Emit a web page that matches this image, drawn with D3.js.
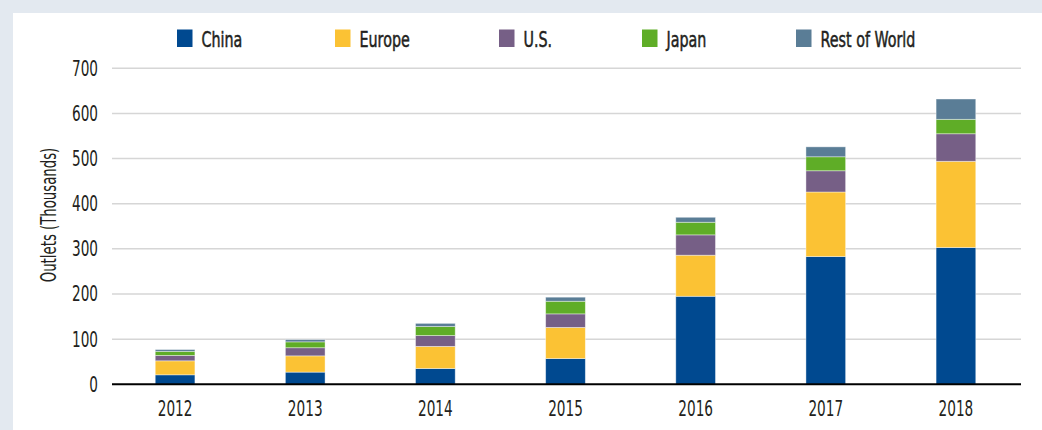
<!DOCTYPE html>
<html>
<head>
<meta charset="utf-8">
<script src="https://cdn.jsdelivr.net/npm/d3@7"></script>
<style>
  html, body { margin: 0; padding: 0; background: #e3e9f0; }
  svg { display: block; font-family: "DejaVu Sans Condensed", "DejaVu Sans", sans-serif; font-stretch: condensed; }
</style>
</head>
<body>
<div id="chart"></div>
<script>
var years = ["2012", "2013", "2014", "2015", "2016", "2017", "2018"];
var regions = ["China", "Europe", "U.S.", "Japan", "Rest of World"];
var china = [21, 27, 35, 57, 195, 283, 303];
var europe = [31, 36, 49, 69, 91, 143, 191];
var us = [12, 18, 24, 30, 45, 47, 61];
var japan = [9, 13, 20, 28, 28, 31, 32];
var rest = [4, 5, 7, 9, 11, 22, 45];
var yTicks = [0, 100, 200, 300, 400, 500, 600, 700];
var colors = ["#004990", "#fbc234", "#765f86", "#5fad27", "#5a7d96"];

var width = 1042, height = 430;
var squeeze = 0.74;   // the original uses a condensed face, so narrow the text

function place(px, py) {
    return "translate(" + px + "," + py + ") scale(" + squeeze + ",1)";
}

var svg = d3.select("#chart")
    .append("svg")
    .attr("width", width)
    .attr("height", height);

// white panel
svg.append("rect")
    .attr("x", 13)
    .attr("y", 13)
    .attr("width", width - 13)
    .attr("height", height - 13)
    .attr("fill", "#ffffff");

// build rows for the stack
var rows = years.map(function(y, i) {
    return {year: y, "China": china[i], "Europe": europe[i], "U.S.": us[i], "Japan": japan[i], "Rest of World": rest[i]};
});
var series = d3.stack().keys(regions)(rows);

var x = d3.scaleBand()
    .domain(years)
    .range([110, 1021])
    .paddingInner(0.695)
    .paddingOuter(0.3475);

var y = d3.scaleLinear()
    .domain([0, 700])
    .range([384.3, 68.3]);

var color = d3.scaleOrdinal().domain(regions).range(colors);

// gridlines
svg.append("g")
    .selectAll("line")
    .data(yTicks.slice(1))
    .enter().append("line")
    .attr("x1", 112)
    .attr("x2", 1021)
    .attr("y1", function(d) { return y(d); })
    .attr("y2", function(d) { return y(d); })
    .attr("stroke", "#d6d6d6")
    .attr("stroke-width", 1.5);

// y tick labels
svg.append("g")
    .selectAll("text")
    .data(yTicks)
    .enter().append("text")
    .attr("transform", function(d) { return place(98, y(d)); })
    .attr("dy", "0.36em")
    .attr("text-anchor", "end")
    .attr("font-size", "20.5px")
    .attr("fill", "#231f20")
    .text(function(d) { return d; });

// bars
svg.append("g")
    .selectAll("g")
    .data(series)
    .enter().append("g")
    .attr("fill", function(d) { return color(d.key); })
    .selectAll("rect")
    .data(function(d) { return d; })
    .enter().append("rect")
    .attr("x", function(d) { return x(d.data.year); })
    .attr("width", x.bandwidth())
    .attr("y", function(d) { return y(d[1]); })
    .attr("height", function(d) { return y(d[0]) - y(d[1]); })
    .attr("stroke", "#ffffff")
    .attr("stroke-opacity", 0.5)
    .attr("stroke-width", 0.8);

// zero axis line
svg.append("line")
    .attr("x1", 112)
    .attr("x2", 1021)
    .attr("y1", y(0))
    .attr("y2", y(0))
    .attr("stroke", "#000000")
    .attr("stroke-width", 2);

// x labels
svg.append("g")
    .selectAll("text")
    .data(years)
    .enter().append("text")
    .attr("transform", function(d) { return place(x(d) + x.bandwidth() / 2, 415.5); })
    .attr("text-anchor", "middle")
    .attr("font-size", "20.5px")
    .attr("fill", "#231f20")
    .text(function(d) { return d; });

// y title
svg.append("text")
    .attr("transform", "translate(56,215) rotate(-90) scale(0.72,1)")
    .attr("text-anchor", "middle")
    .attr("font-size", "20.5px")
    .attr("fill", "#231f20")
    .text("Outlets (Thousands)");

// legend
var legendX = [177, 335, 499, 642, 796];
var legend = svg.append("g")
    .selectAll("g")
    .data(regions)
    .enter().append("g")
    .attr("transform", function(d, i) { return "translate(" + legendX[i] + ",29.5)"; });

legend.append("rect")
    .attr("width", 15.5)
    .attr("height", 17.5)
    .attr("fill", function(d) { return color(d); });

legend.append("text")
    .attr("transform", place(24.5, 17.2))
    .attr("font-size", "21.5px")
    .attr("fill", "#231f20")
    .attr("stroke", "#231f20")
    .attr("stroke-width", 0.5)
    .text(function(d) { return d; });
</script>
</body>
</html>
